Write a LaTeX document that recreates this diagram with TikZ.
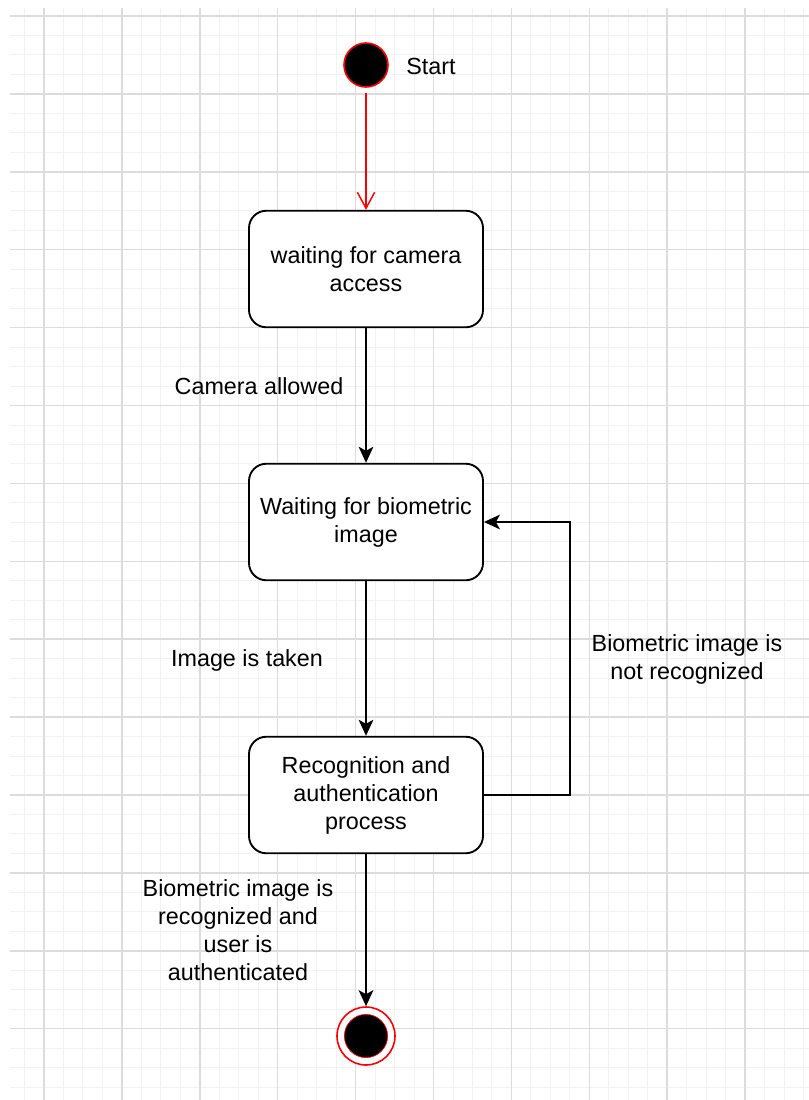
\documentclass[tikz,border=0pt]{standalone}
\usepackage{fontspec}
\setmainfont{Liberation Sans}
\usetikzlibrary{arrows.meta,positioning}

\newcommand\diagfont{\fontsize{17.5}{21}\selectfont}
\definecolor{gridmajorcol}{HTML}{DCDCDC}
\definecolor{gridminorcol}{HTML}{F2F2F2}
\definecolor{startred}{HTML}{FF0000}

\tikzset{
    gridminor/.style={draw=gridminorcol, line width=0.7pt},
    gridmajor/.style={draw=gridmajorcol, line width=1.1pt},
    state/.style={draw, fill=white, rounded corners=13pt, line width=1.4pt,
        minimum width=175.5pt, minimum height=87.4pt, align=center, font=\diagfont},
    initial/.style={circle, draw=startred, fill=black, line width=1.2pt, minimum size=33pt, inner sep=0pt},
    final/.style={circle, draw=startred, fill=white, line width=1.2pt, minimum size=43.5pt, inner sep=0pt,
        path picture={\draw[startred, fill=black, line width=0.5pt] (path picture bounding box.center) circle (16.2pt);}},
    lbl/.style={align=center, font=\diagfont},
    flow/.style={-{Stealth[length=12pt, width=11pt, inset=3pt]}, line width=1.4pt},
    startflow/.style={-{Straight Barb[length=12pt, width=13pt]}, draw=startred, line width=1.1pt, shorten <=4pt},
}

\begin{document}
\begin{tikzpicture}[x=0.75pt, y=-0.75pt]
    \useasboundingbox (0,0) rectangle (809,1100);
    \fill[white] (0,0) rectangle (809,1100);

    % background grid
    \begin{scope}
        \clip (10,8) rectangle (809,1100);
        \foreach \k in {-1,...,39}
            \draw[gridminor] ({44+19.475*\k},8) -- ({44+19.475*\k},1100);
        \foreach \k in {0,...,55}
            \draw[gridminor] (10,{16+19.475*\k}) -- (809,{16+19.475*\k});
        \foreach \k in {0,...,9}
            \draw[gridmajor] ({44+77.9*\k},8) -- ({44+77.9*\k},1100);
        \foreach \k in {0,...,13}
            \draw[gridmajor] (10,{16+77.9*\k}) -- (809,{16+77.9*\k});
    \end{scope}

    % states
    \node[initial] (start) at (366,65) {};
    \node[lbl] (startlbl) at (431,66) {Start};
    \node[state] (camera) at (366,269) {waiting for camera\\access};
    \node[state] (bio) at (366,522) {Waiting for biometric\\image};
    \node[state] (recog) at (366,795) {Recognition and\\authentication\\process};
    \node[final] (stop) at (366,1036) {};

    % transitions
    \draw[startflow] (start) -- (camera);
    \draw[flow] (camera) -- (bio);
    \draw[flow] (bio) -- (recog);
    \draw[flow] (recog) -- (stop);
    \coordinate (loopturn) at (570,795);
    \draw[flow] (recog.east) -- (loopturn) |- (bio.east);

    % transition labels
    \node[lbl] (camlbl) at (259,386) {Camera allowed};
    \node[lbl] (takenlbl) at (247,660) {Image is taken};
    \node[lbl] (retrylbl) at (687,659) {Biometric image is\\not recognized};
    \node[lbl] (donelbl) at (238,930) {Biometric image is\\recognized and\\user is\\authenticated};
\end{tikzpicture}
\end{document}
